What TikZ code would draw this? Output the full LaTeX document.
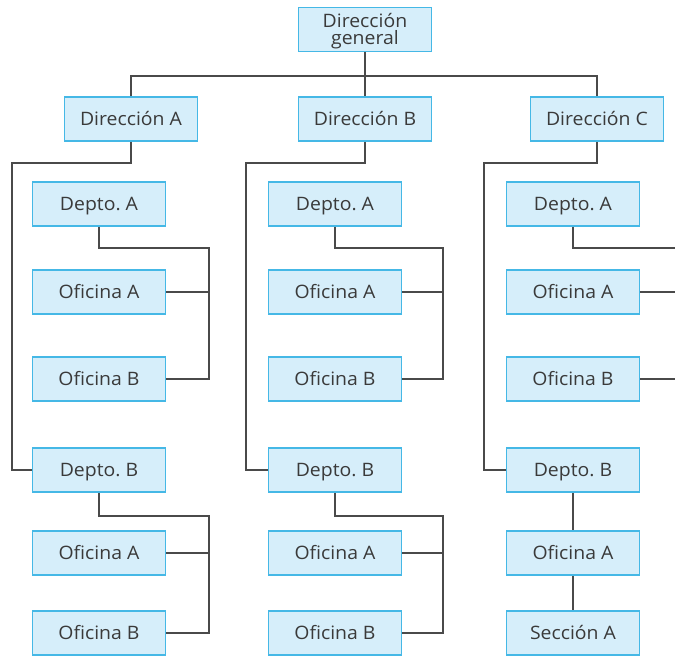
\documentclass[tikz,border=0pt]{standalone}
\usepackage{fontspec}
\setsansfont{Open Sans}[FakeStretch=1.05]
\usetikzlibrary{positioning}
\definecolor{boxfill}{HTML}{D6EEFA}
\definecolor{boxline}{HTML}{45B8E6}
\definecolor{linkgray}{HTML}{4A4A4A}
\definecolor{labelgray}{HTML}{3A3A3A}
\tikzset{
  unit/.style={draw=boxline, fill=boxfill, line width=1.5pt,
    minimum width=133pt, minimum height=44pt, inner sep=0pt,
    text height=13pt, text depth=0pt,
    font=\sffamily\fontsize{18.5}{17}\selectfont\frenchspacing,
    text=labelgray, align=center},
  link/.style={draw=linkgray, line width=1.6pt}
}

\begin{document}
\begin{tikzpicture}[x=1pt,y=-1pt]
  \useasboundingbox (0,0) rectangle (675,657);
  % top levels
  \node[unit, text height=29pt] (dg) at (365,29.5) {Dirección\\general};
  \node[unit] (dA) at (131,119) {Dirección A};
  \node[unit] (dB) at (365,119) {Dirección B};
  \node[unit] (dC) at (597,119) {Dirección C};
  \coordinate (bus) at (365,76);
  \draw[link] (dg.south) -- (dB.north);
  \draw[link] (dA.north) |- (bus) -| (dC.north);
  % departments and offices
  \foreach \c/\x in {A/99,B/335,C/573} {
    \node[unit] (\c-da) at (\x,204) {Depto. A};
    \node[unit] (\c-oa) at (\x,292) {Oficina A};
    \node[unit] (\c-ob) at (\x,379) {Oficina B};
    \node[unit] (\c-db) at (\x,470) {Depto. B};
    \node[unit] (\c-oc) at (\x,553) {Oficina A};
  }
  \node[unit] (A-od) at (99,633) {Oficina B};
  \node[unit] (B-od) at (335,633) {Oficina B};
  \node[unit] (C-sa) at (573,633) {Sección A};
  % spines and brackets
  \foreach \c/\s/\b in {A/12/209,B/246/443} {
    \coordinate (\c-sp) at (\s,163);
    \coordinate (\c-br) at (\b,248);
    \coordinate (\c-bl) at (\b,516);
    \draw[link] (d\c.south) |- (\c-sp) |- (\c-db.west);
    \draw[link] (\c-da.south) |- (\c-br) |- (\c-ob.east);
    \draw[link] (\c-oa.east) -- (\c-oa.east -| \c-br);
    \draw[link] (\c-db.south) |- (\c-bl) |- (\c-od.east);
    \draw[link] (\c-oc.east) -- (\c-oc.east -| \c-bl);
  }
  \coordinate (C-sp) at (484,163);
  \coordinate (C-br) at (675,248);
  \draw[link] (dC.south) |- (C-sp) |- (C-db.west);
  \draw[link] (C-da.south) |- (C-br);
  \draw[link] (C-oa.east) -- (C-oa.east -| C-br);
  \draw[link] (C-ob.east) -- (C-ob.east -| C-br);
  \draw[link] (C-db.south) -- (C-oc.north);
  \draw[link] (C-oc.south) -- (C-sa.north);
\end{tikzpicture}
\end{document}
